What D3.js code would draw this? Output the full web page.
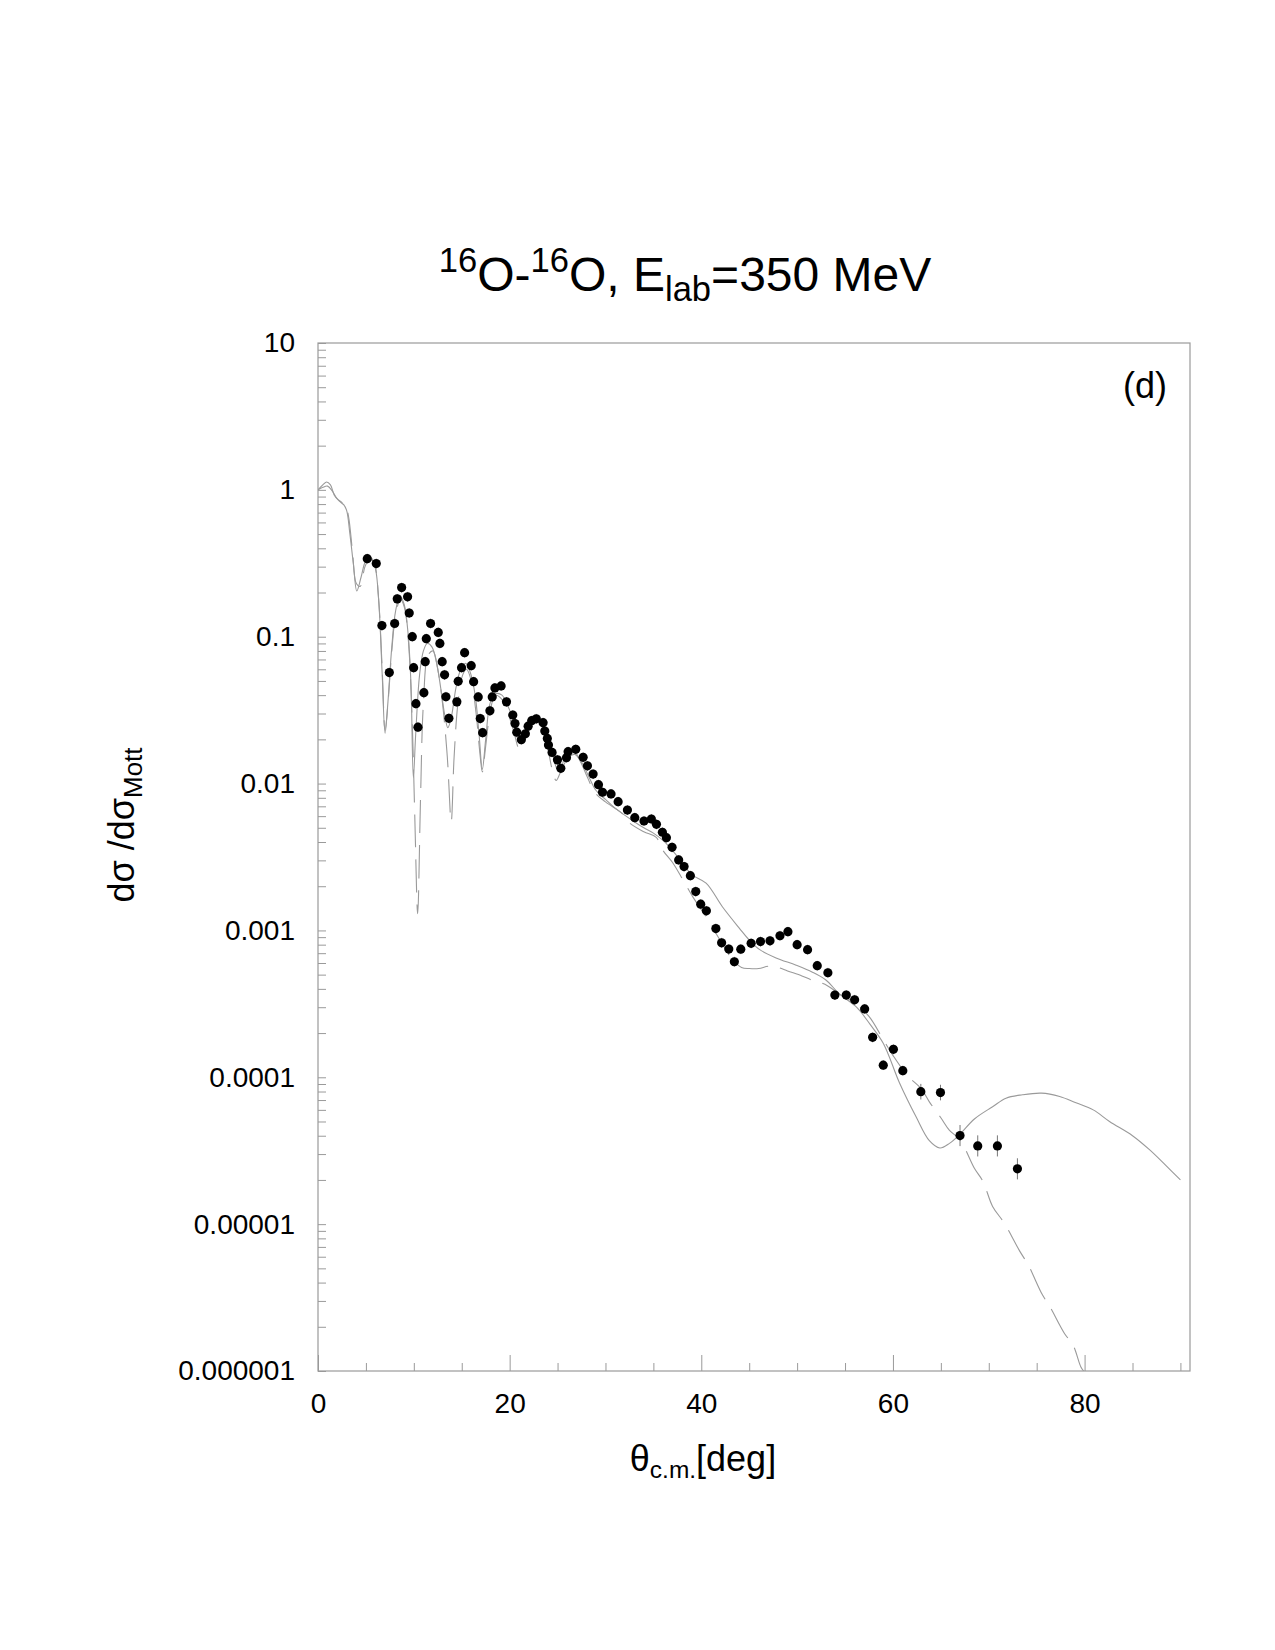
<!DOCTYPE html>
<html><head><meta charset="utf-8">
<script src="https://cdn.jsdelivr.net/npm/d3@7"></script>
<style>body{margin:0;background:#fff} svg{display:block}</style>
</head><body>
<svg id="chart" width="1275" height="1650"></svg>
<script>
const yTickValues = [10, 1, 0.1, 0.01, 0.001, 0.0001, 0.00001, 0.000001];
const yTickLabels = ["10", "1", "0.1", "0.01", "0.001", "0.0001", "0.00001", "0.000001"];
const xTickValues = [0, 20, 40, 60, 80];
const xTickLabels = ["0", "20", "40", "60", "80"];
const xMinorTicks = [5, 10, 15, 25, 30, 35, 45, 50, 55, 65, 70, 75, 85, 90];

const dataAngles = [5.14, 6.08, 6.67, 7.44, 8.0, 8.27, 8.73, 9.35, 9.52, 9.84, 9.98, 10.22, 10.43,
  11.05, 11.19, 11.3, 11.75, 12.55, 12.72, 12.96, 13.21, 13.35, 13.66, 14.49, 14.63, 14.98, 15.3,
  15.99, 16.24, 16.72, 16.93, 17.18, 17.94, 18.18, 18.46, 19.11, 19.67, 20.33, 20.56, 20.74, 21.22,
  21.64, 21.93, 22.3, 22.78, 23.49, 23.67, 23.93, 24.05, 24.43, 24.99, 25.34, 25.93, 26.1, 26.9,
  27.67, 28.12, 28.71, 29.27, 29.69, 30.58, 31.32, 32.29, 33.06, 34.02, 34.79, 35.32, 35.94, 36.36,
  36.95, 37.64, 38.2, 38.86, 39.42, 39.94, 40.53, 41.52, 42.12, 42.87, 43.45, 44.12, 45.2, 46.18,
  47.17, 48.21, 49.04, 50.0, 51.09, 52.1, 53.21, 53.94, 55.13, 56.0, 57.05, 57.88, 58.99, 60.05,
  61.03, 62.91, 64.96, 67.0, 68.85, 70.9, 72.99];
const dataValues = [0.340, 0.315, 0.119, 0.057, 0.123, 0.181, 0.216, 0.187, 0.145, 0.100, 0.0615, 0.035, 0.0242,
  0.0416, 0.0676, 0.097, 0.123, 0.107, 0.090, 0.0676, 0.055, 0.039, 0.0278, 0.036, 0.0497, 0.0615, 0.0778,
  0.0635, 0.0494, 0.0389, 0.0277, 0.0222, 0.0313, 0.0389, 0.0448, 0.0462, 0.036, 0.0293, 0.0256, 0.0224, 0.0199,
  0.0218, 0.0246, 0.0268, 0.0276, 0.026, 0.0228, 0.0203, 0.0183, 0.0163, 0.0145, 0.0127, 0.015, 0.0165, 0.0171,
  0.0151, 0.0132, 0.0116, 0.00983, 0.00873, 0.0085, 0.00753, 0.0066, 0.00586, 0.00556, 0.00574, 0.00528, 0.00466, 0.00428,
  0.00368, 0.00302, 0.00272, 0.00236, 0.00184, 0.00151, 0.00136, 0.00103, 0.000824, 0.000747, 0.000612, 0.000745, 0.000817, 0.00084,
  0.00085, 0.00092, 0.00098, 0.0008, 0.00074, 0.000575, 0.000515, 0.000363, 0.000363, 0.000337, 0.000292, 0.000187, 0.000121, 0.000155,
  0.000111, 0.0000798, 0.0000787, 0.0000401, 0.0000341, 0.0000341, 0.0000238];
const dataErrors = dataAngles.map(a => a > 66 ? 0.18 : (a > 62 ? 0.13 : 0.08));

const solidAngles = [0, 0.5, 0.9, 1.3, 1.7, 2.2, 2.7, 3.0, 3.3, 3.7, 4.05, 4.5, 5.0, 5.55, 6.0, 6.35, 6.7, 7.0,
  7.3, 7.7, 8.1, 8.55, 9.0, 9.4, 9.7, 9.95, 10.2, 10.6, 11.0, 11.4, 11.9, 12.4, 12.8, 13.2, 13.55, 13.9,
  14.4, 14.9, 15.4, 15.9, 16.4, 16.8, 17.15, 17.5, 18.0, 18.6, 19.2, 19.7, 20.4, 21.0, 21.5, 22.0, 22.5,
  23.2, 23.8, 24.4, 25.0, 25.5, 26.1, 26.8, 27.5, 28.3, 29.0, 30.0, 31.0, 32.0, 33.0, 34.0, 35.0, 36.0,
  37.0, 38.0, 39.0, 40.5, 42.2, 44.0, 45.0, 46.1, 47.8, 49.9, 51.6, 53.0, 54.4, 56.2, 57.6, 59.0, 60.7,
  62.4, 63.8, 64.9, 65.9, 67.0, 68.5, 70.4, 71.8, 73.5, 75.5, 77.4, 79.1, 80.9, 82.6, 85.0, 86.8, 88.5, 90.0];
const solidValues = [1.0, 1.08, 1.13, 1.08, 0.92, 0.84, 0.79, 0.72, 0.52, 0.31, 0.205, 0.255, 0.33, 0.345, 0.29, 0.17, 0.055, 0.022,
  0.036, 0.085, 0.15, 0.19, 0.165, 0.105, 0.048, 0.011, 0.022, 0.055, 0.08, 0.09, 0.085, 0.065, 0.045, 0.03, 0.024, 0.028,
  0.045, 0.06, 0.066, 0.057, 0.04, 0.022, 0.0125, 0.02, 0.036, 0.041, 0.04, 0.035, 0.027, 0.019, 0.021, 0.026, 0.028,
  0.027, 0.022, 0.017, 0.0125, 0.013, 0.015, 0.0158, 0.014, 0.011, 0.009, 0.0078, 0.0068, 0.0061, 0.0055, 0.005, 0.0046, 0.0041,
  0.0035, 0.0029, 0.0024, 0.0021, 0.00145, 0.00103, 0.00086, 0.00074, 0.00065, 0.00058, 0.00052, 0.00046, 0.00037, 0.0003, 0.00023, 0.00017, 0.000091,
  0.000054, 0.000037, 0.000033, 0.0000355, 0.000041, 0.000052, 0.000063, 0.000072, 0.000076, 0.000078, 0.000074, 0.000067, 0.00006, 0.00005, 0.00004, 0.000032, 0.000025, 0.00002];

const dashedAngles = [0, 0.5, 1.0, 1.5, 2.0, 2.5, 2.9, 3.2, 3.6, 4.0, 4.4, 4.9, 5.4, 5.9, 6.3, 6.7, 7.0, 7.3, 7.7,
  8.1, 8.6, 9.0, 9.4, 9.8, 10.1, 10.4, 10.7, 11.0, 11.5, 12.0, 12.5, 13.0, 13.5, 13.9, 14.2, 14.6, 15.1,
  15.5, 16.0, 16.5, 16.9, 17.15, 17.5, 18.0, 18.5, 19.1, 19.7, 20.4, 21.05, 21.6, 22.2, 22.8, 23.4, 24.0,
  24.5, 24.85, 25.3, 25.9, 26.6, 27.3, 28.0, 28.9, 30.0, 31.7, 32.5, 34.0, 35.3, 36.0, 37.0, 38.1, 39.1,
  40.7, 42.0, 43.2, 44.2, 45.0, 46.0, 47.0, 48.0, 49.0, 50.5, 51.5, 52.9, 54.4, 56.0, 57.5, 59.0, 60.0,
  61.5, 62.95, 63.8, 65.0, 65.9, 67.0, 68.5, 69.4, 70.4, 71.6, 73.2, 74.1, 75.6, 76.3, 77.9, 78.8, 79.6, 79.9];
const dashedValues = [1.0, 1.04, 1.06, 0.98, 0.87, 0.82, 0.78, 0.65, 0.38, 0.23, 0.22, 0.3, 0.34, 0.31, 0.19, 0.06, 0.023, 0.035, 0.08,
  0.14, 0.18, 0.16, 0.1, 0.03, 0.006, 0.0013, 0.008, 0.035, 0.075, 0.08, 0.06, 0.035, 0.015, 0.0055, 0.015, 0.035, 0.055,
  0.06, 0.05, 0.03, 0.016, 0.012, 0.018, 0.032, 0.04, 0.038, 0.032, 0.023, 0.017, 0.02, 0.026, 0.027, 0.024, 0.017,
  0.012, 0.0105, 0.012, 0.016, 0.017, 0.0145, 0.0115, 0.0087, 0.0075, 0.0063, 0.0054, 0.0047, 0.0043, 0.0035, 0.0029, 0.0022, 0.0017,
  0.00118, 0.00085, 0.00064, 0.00056, 0.00055, 0.00055, 0.00057, 0.00056, 0.00053, 0.00049, 0.00046, 0.00043, 0.00037, 0.00032, 0.00026, 0.00018, 0.000141,
  0.000103, 0.0000836, 0.000068, 0.000053, 0.0000435, 0.0000375, 0.000024, 0.0000195, 0.0000132, 0.0000102, 0.0000066, 0.0000053, 0.0000033, 0.0000028, 0.0000018, 0.0000015, 0.00000107, 0.000001];

const FONT = "'Liberation Sans', Arial, Helvetica, sans-serif";
const svg = d3.select("#chart");
const L = 318, R = 1190, T = 343, B = 1371;
const x = d3.scaleLinear().domain([0, 91]).range([L, R]);
const y = d3.scaleLog().domain([1e-6, 10]).range([B, T]);
const gray = "#9a9a9a";

// minor y ticks
const yMinor = [];
for (let e = -6; e < 1; e++) for (let k = 2; k <= 9; k++) yMinor.push(k * Math.pow(10, e));

const yMinorAxis = svg.append("g").attr("transform", `translate(${L},0)`)
  .call(d3.axisLeft(y).tickValues(yMinor).tickSizeInner(-8).tickSizeOuter(0).tickFormat(""));
const yAxis = svg.append("g").attr("transform", `translate(${L},0)`)
  .call(d3.axisLeft(y).tickValues(yTickValues).tickSizeInner(-8).tickSizeOuter(0).tickPadding(23)
    .tickFormat((d, i) => yTickLabels[i]));
const xMinorAxis = svg.append("g").attr("transform", `translate(0,${B})`)
  .call(d3.axisBottom(x).tickValues(xMinorTicks).tickSizeInner(-8).tickSizeOuter(0).tickFormat(""));
const xAxis = svg.append("g").attr("transform", `translate(0,${B})`)
  .call(d3.axisBottom(x).tickValues(xTickValues).tickSizeInner(-16).tickSizeOuter(0).tickPadding(22)
    .tickFormat((d, i) => xTickLabels[i]));

[yMinorAxis, yAxis, xMinorAxis, xAxis].forEach(g => {
  g.select(".domain").remove();
  g.selectAll(".tick line").attr("stroke", gray).attr("stroke-width", 1);
  g.selectAll(".tick text").attr("fill", "#000").style("font-family", FONT).style("font-size", "28px");
});

// frame
svg.append("rect").attr("x", L).attr("y", T).attr("width", R - L).attr("height", B - T)
  .attr("fill", "none").attr("stroke", gray).attr("stroke-width", 1.2);

svg.append("clipPath").attr("id", "clip").append("rect")
  .attr("x", L).attr("y", T).attr("width", R - L).attr("height", B - T);

const line = d3.line().x(d => x(d[0])).y(d => y(d[1])).curve(d3.curveCatmullRom.alpha(0.5));
const plot = svg.append("g").attr("clip-path", "url(#clip)");

plot.append("path").datum(solidAngles.map((a, i) => [a, solidValues[i]]))
  .attr("d", line).attr("fill", "none").attr("stroke", gray).attr("stroke-width", 1.1);
plot.append("path").datum(dashedAngles.map((a, i) => [a, dashedValues[i]]))
  .attr("d", line).attr("fill", "none").attr("stroke", gray).attr("stroke-width", 1.1)
  .attr("stroke-dasharray", "33,12");

const pts = dataAngles.map((a, i) => ({ a, v: dataValues[i], e: dataErrors[i] }));
plot.selectAll("line.err").data(pts).enter().append("line").attr("class", "err")
  .attr("x1", d => x(d.a)).attr("x2", d => x(d.a))
  .attr("y1", d => y(d.v * (1 + d.e))).attr("y2", d => y(d.v / (1 + d.e)))
  .attr("stroke", "#777").attr("stroke-width", 1);
plot.selectAll("circle.pt").data(pts).enter().append("circle").attr("class", "pt")
  .attr("cx", d => x(d.a)).attr("cy", d => y(d.v)).attr("r", 4.6).attr("fill", "#000");

// title
const TF = 48;
const title = svg.append("text").attr("x", 685).attr("y", 291).attr("text-anchor", "middle")
  .style("font-family", FONT).style("font-size", TF + "px").attr("fill", "#000");
title.append("tspan").text("16").style("font-size", (TF * 0.72) + "px").attr("dy", -TF * 0.4);
title.append("tspan").text("O-").attr("dy", TF * 0.4);
title.append("tspan").text("16").style("font-size", (TF * 0.72) + "px").attr("dy", -TF * 0.4);
title.append("tspan").text("O, E").attr("dy", TF * 0.4);
title.append("tspan").text("lab").style("font-size", (TF * 0.72) + "px").attr("dy", TF * 0.2);
title.append("tspan").text("=350 MeV").attr("dy", -TF * 0.2);

// y label
const YF = 36;
const ylab = svg.append("text").attr("transform", "translate(134,825) rotate(-90)")
  .attr("text-anchor", "middle").style("font-family", FONT).style("font-size", YF + "px").attr("fill", "#000");
ylab.append("tspan").text("dσ /dσ");
ylab.append("tspan").text("Mott").style("font-size", (YF * 0.72) + "px").attr("dy", YF * 0.22);

// x label
const XF = 36;
const xlab = svg.append("text").attr("x", 703).attr("y", 1471).attr("text-anchor", "middle")
  .style("font-family", FONT).style("font-size", XF + "px").attr("fill", "#000");
xlab.append("tspan").text("θ");
xlab.append("tspan").text("c.m.").style("font-size", (XF * 0.68) + "px").attr("dy", XF * 0.2);
xlab.append("tspan").text("[deg]").attr("dy", -XF * 0.2);

// panel label
svg.append("text").attr("x", 1167).attr("y", 398).attr("text-anchor", "end")
  .style("font-family", FONT).style("font-size", "36px").attr("fill", "#000").text("(d)");
</script>
</body></html>
